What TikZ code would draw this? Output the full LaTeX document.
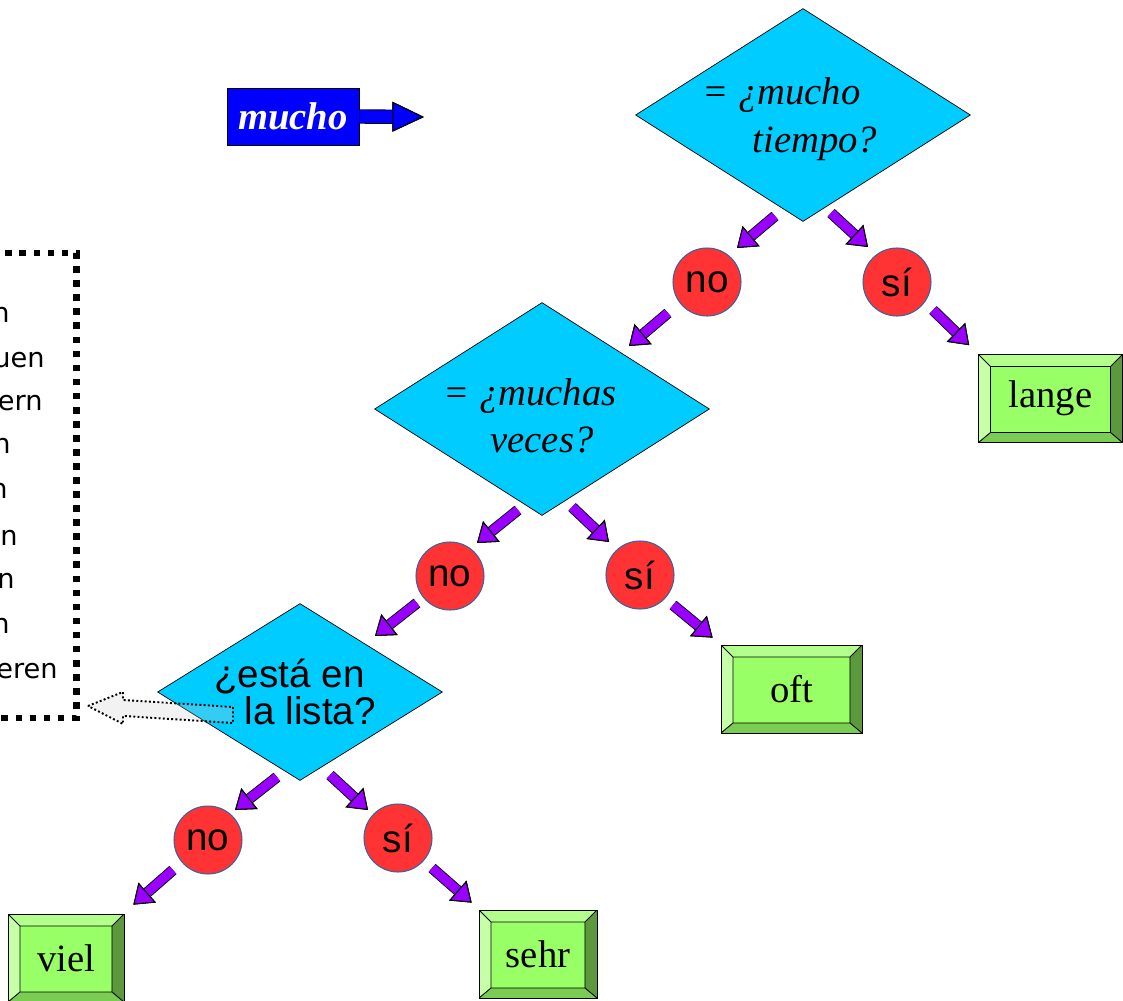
\documentclass[tikz,border=0pt]{standalone}
\usepackage{fontspec}
\setmainfont{Liberation Serif}
\setsansfont{Liberation Sans}
\newfontfamily\listfont{DejaVu Sans}
\usetikzlibrary{shapes.geometric,arrows.meta,calc}
\definecolor{askcyan}{HTML}{00CCFF}
\definecolor{answred}{HTML}{FF3333}
\definecolor{answline}{HTML}{3465A4}
\definecolor{flowviolet}{HTML}{9900FF}
\definecolor{btnface}{HTML}{99FF66}
\definecolor{btntop}{HTML}{B3FF8C}
\definecolor{btnleft}{HTML}{C6FFA8}
\definecolor{btnright}{HTML}{5C993D}
\definecolor{btnbottom}{HTML}{7ACC52}
\begin{document}
\begin{tikzpicture}[x=0.02cm,y=-0.02cm,
	ask/.style={diamond,draw,fill=askcyan,inner sep=-0.3cm,shape aspect=1.57,minimum width=6.7cm,minimum height=4.26cm,align=center,font=\fontsize{22}{27}\selectfont\itshape},
	answer/.style={circle,draw=answline,line width=0.6pt,fill=answred,inner sep=0pt,minimum size=1.36cm,font=\sffamily\fontsize{22}{26}\selectfont},
	result/.style={draw,fill=btnface,inner sep=0pt,minimum height=1.76cm,font=\fontsize{22}{26}\selectfont,
		path picture={
			\path (path picture bounding box.north west) coordinate (bnw) (path picture bounding box.south east) coordinate (bse);
			\path (bnw -| bse) coordinate (bne) (bnw |- bse) coordinate (bsw);
			\path ([shift={(0.24cm,-0.24cm)}]bnw) coordinate (inw) ([shift={(-0.24cm,-0.24cm)}]bne) coordinate (ine)
				([shift={(-0.24cm,0.2cm)}]bse) coordinate (ise) ([shift={(0.24cm,0.2cm)}]bsw) coordinate (isw);
			\fill[btntop] (bnw) -- (bne) -- (ine) -- (inw) -- cycle;
			\fill[btnleft] (bnw) -- (inw) -- (isw) -- (bsw) -- cycle;
			\fill[btnright] (bne) -- (ine) -- (ise) -- (bse) -- cycle;
			\fill[btnbottom] (bsw) -- (isw) -- (ise) -- (bse) -- cycle;
			\draw[line width=0.5pt] (inw) -- (ine) -- (ise) -- (isw) -- cycle (bnw) -- (inw) (bne) -- (ine) (bse) -- (ise) (bsw) -- (isw);
		}},
	flow/.style={draw=flowviolet,line width=5.2pt,-{Triangle[length=10.5pt,width=15pt,line width=0.6pt,color=black,fill=flowviolet]},
		preaction={draw=black,line width=6.2pt,-{Triangle[length=10.5pt,width=15pt,line width=0.6pt,color=black,fill=flowviolet]}}},
	callout/.style={draw=blue,line width=7.2pt,-{Triangle[length=18pt,width=17pt,line width=0.6pt,color=black,fill=blue]},
		preaction={draw=black,line width=8.2pt,-{Triangle[length=18pt,width=17pt,line width=0.6pt,color=black,fill=blue]}}},
	listbox/.style={draw,line width=3.8pt,dash pattern=on 3.8pt off 4.2pt,outer sep=0pt,minimum width=6cm,minimum height=9.3cm},
	hollow/.style={draw,line width=1.1pt,dash pattern=on 1.1pt off 1.3pt,fill=black!20,fill opacity=0.25},
	]
	\useasboundingbox (0,0) rectangle (1123,1001);
	\clip (0,0) rectangle (1123,1001);

	% the word and its start arrow
	\node[draw,fill=blue,text=white,minimum width=2.64cm,minimum height=1.14cm,inner sep=0pt,font=\bfseries\itshape\fontsize{22}{24}\selectfont] (mucho) at (293,116.5) {mucho};
	\coordinate (muchotip) at (424,117);
	\draw[callout] (mucho.east) -- (muchotip);

	% list of verbs, cut at the left edge
	\node[listbox,anchor=east] (palabras) at (76.5,485.5) {};
	\foreach \x/\y/\w [count=\i] in {10/322/n,45/367/uen,43/410/ern,11/453/n,8/498/n,18/545/en,15/588/n,10/633/n,58/678/eren}
		\node[anchor=base east,inner sep=0pt,font=\listfont\fontsize{15.5}{18}\selectfont] (w\i) at (\x,\y) {\w};

	% questions
	\node[ask] (q1) at (803,115) {\rule{0pt}{0.7cm}= ¿mucho\rule{0.86cm}{0pt}\\\hspace*{0.94cm}tiempo?\rule{0.46cm}{0pt}};
	\node[ask] (q2) at (542,409) {\rule{0pt}{0.82cm}= ¿muchas\rule{0.48cm}{0pt}\\veces?};
	\node[ask,minimum width=5.7cm,minimum height=3.54cm,shape aspect=1.6,font=\sffamily\fontsize{22}{21}\selectfont] (q3) at (300,692) {¿está en\rule{0.42cm}{0pt}\\\rule{0.42cm}{0pt}la lista?};

	% answers
	\node[answer] (no1) at (707,282) {no};
	\node[answer] (si1) at (897,282) {sí};
	\node[answer] (no2) at (450,576) {no};
	\node[answer] (si2) at (640,575) {sí};
	\node[answer] (no3) at (208,840) {no};
	\node[answer] (si3) at (398,838) {sí};

	% results
	\node[result,minimum width=2.88cm] (lange) at (1050.5,398.5) {lange};
	\node[result,minimum width=2.82cm] (oft) at (791.5,689) {oft};
	\node[result,minimum width=2.32cm] (viel) at (66,958) {viel};
	\node[result,minimum width=2.36cm] (sehr) at (538,954) {sehr};

	\draw[flow] ($(q1)+(-28,101)$) -- ($(no1)+(30,-34)$);
	\draw[flow] ($(q1)+(28,98)$) -- ($(si1)+(-29,-35)$);
	\draw[flow] ($(no1)+(-39,31)$) -- ($(q2)+(87,-63)$);
	\draw[flow] ($(si1)+(36,28)$) -- ($(lange.north west)+(-9,-9)$);
	\draw[flow] ($(q2)+(-24,101)$) -- ($(no2)+(27,-33)$);
	\draw[flow] ($(q2)+(30,98)$) -- ($(si2)+(-31,-33)$);
	\draw[flow] ($(no2)+(-33,27)$) -- ($(q3)+(75,-56)$);
	\draw[flow] ($(si2)+(33,30)$) -- ($(oft.north west)+(-8,-7)$);
	\draw[flow] ($(q3)+(-23,85)$) -- ($(no3)+(27,-30)$);
	\draw[flow] ($(q3)+(30,83)$) -- ($(si3)+(-30,-28)$);
	\draw[flow] ($(no3)+(-35,30)$) -- ($(viel.north east)+(9,-9)$);
	\draw[flow] ($(si3)+(34,30)$) -- ($(sehr.north west)+(-7,-7)$);

	% back to the list
	\coordinate (htip) at ($(palabras.south east)+(11.5,-12)$);
	\coordinate (htail) at ($(q3)+(-67,23)$);
	\draw[hollow] (htip) -- ++(35,-14) -- ++(0,8) -- ($(htail)+(0,-8)$) -- ($(htail)+(0,8)$) -- ($(htip)+(35,10)$) -- ++(0,8) -- cycle;
\end{tikzpicture}
\end{document}
